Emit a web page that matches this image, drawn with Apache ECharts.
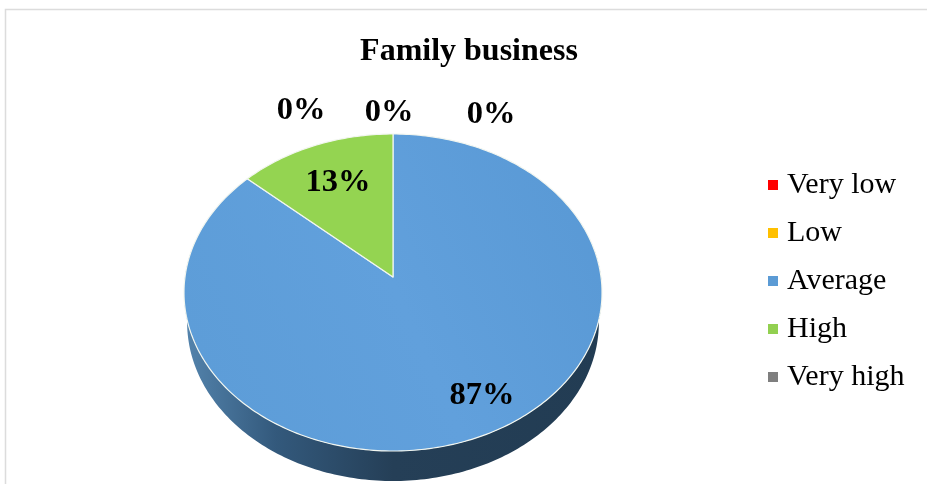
<!DOCTYPE html>
<html>
<head>
<meta charset="utf-8">
<style>html,body{margin:0;padding:0;background:#fff}#c{width:927px;height:484px}</style>
<script src="https://cdn.jsdelivr.net/npm/echarts@6/dist/echarts.min.js"></script>
</head>
<body>
<div id="c"></div>
<script>
const titleText = 'Family business';
const categories = ['Very low', 'Low', 'Average', 'High', 'Very high'];
const percentValues = [0, 0, 86.6, 13.4, 0];
const sliceColors = ['#ff0000', '#ffc000', '#5b9bd5', '#92d050', '#7f7f7f'];
const FONT = '"Liberation Serif","Times New Roman",serif';

// Layout of the tilted pie: apex, projected radii, perspective, wall depth
const pie = { cx: 393, cy: 277, a: 208, b: 157, k: 0.0978, depth: 30, wallScale: 0.985 };
// Hand-placed label anchors of the original chart (centres), one per category
const labelAnchors = [[491, 115], [389, 113], [482, 396], [338, 183], [301, 111]];

const total = percentValues.reduce((s, v) => s + v, 0);
function rim(deg) {
  const t = deg * Math.PI / 180, u = Math.sin(t), v = -Math.cos(t), d = 1 - pie.k * v;
  return [pie.cx + pie.a * u / d, pie.cy + pie.b * v / d];
}
function arc(from, to) {
  const pts = [], n = Math.max(2, Math.ceil(Math.abs(to - from)));
  for (let i = 0; i <= n; i++) pts.push(rim(from + (to - from) * i / n));
  return pts;
}
function renderSlice(index) {
  return function () {
    const start = percentValues.slice(0, index).reduce((s, v) => s + v, 0) / total * 360;
    const value = percentValues[index], end = start + value / total * 360;
    const children = [];
    if (value > 0) {
      const wFrom = Math.max(start, 80), wTo = Math.min(end, 280);
      if (wTo > wFrom) {
        const top = arc(wFrom, wTo);
        const bottom = top.map(p => [pie.cx + (p[0] - pie.cx) * pie.wallScale, p[1] + pie.depth]).reverse();
        children.push({
          type: 'polygon', shape: { points: top.concat(bottom) },
          style: {
            fill: new echarts.graphic.LinearGradient(1, 0, 0, 0, [
              { offset: 0, color: '#223c53' }, { offset: 0.5, color: '#253f57' },
              { offset: 0.78, color: '#33597c' }, { offset: 1, color: '#5484ad' }
            ])
          }
        });
      }
      const fill = index === 2
        ? new echarts.graphic.LinearGradient(1, 0, 0, 0.6, [
            { offset: 0, color: '#5898d4' }, { offset: 0.55, color: '#61a0dc' }, { offset: 1, color: '#5d9dd8' }
          ])
        : '#94d451';
      children.push({
        type: 'polygon', shape: { points: [[pie.cx, pie.cy]].concat(arc(start, end)) },
        style: { fill, stroke: '#f2f6f0', lineWidth: 1.2, lineJoin: 'round' }
      });
    }
    children.push({
      type: 'text', z2: 10,
      style: {
        x: labelAnchors[index][0], y: labelAnchors[index][1],
        text: Math.round(value) + '%', fill: '#000', font: 'bold 32.5px ' + FONT,
        align: 'center', verticalAlign: 'middle'
      }
    });
    return { type: 'group', children };
  };
}

const chart = echarts.init(document.getElementById('c'), null, { renderer: 'canvas' });
chart.setOption({
  animation: false,
  backgroundColor: '#ffffff',
  title: {
    text: titleText, left: 464, top: 31, textAlign: 'center',
    textStyle: { fontFamily: FONT, fontSize: 32, fontWeight: 'bold', color: '#000' }
  },
  legend: {
    orient: 'vertical', left: 763, top: 156, itemWidth: 10, itemHeight: 10, itemGap: 0,
    icon: 'rect', selectedMode: false, data: categories,
    textStyle: { fontFamily: FONT, fontSize: 30, color: '#000', lineHeight: 48, padding: [0, 0, 0, 4] }
  },
  graphic: [{
    type: 'polyline', z: -1, silent: true,
    shape: { points: [[5.5, 484], [5.5, 9.5], [927, 9.5]] },
    style: { stroke: '#dcdcdc', lineWidth: 1.5, fill: null }
  }],
  series: categories.map((name, i) => ({
    type: 'custom', name, coordinateSystem: 'none', z: i === 2 ? 2 : 3,
    itemStyle: { color: sliceColors[i] },
    data: [percentValues[i]],
    renderItem: renderSlice(i)
  }))
});
</script>
</body>
</html>
